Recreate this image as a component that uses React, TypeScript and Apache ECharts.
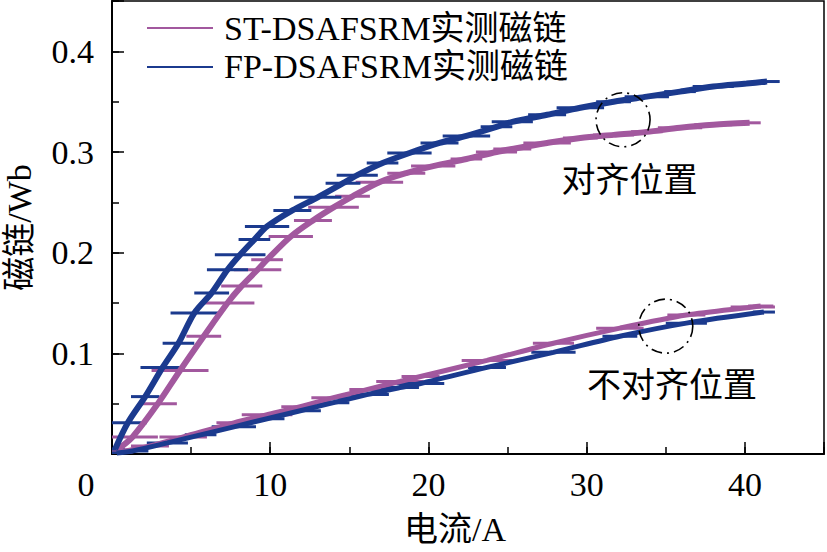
import React, { useEffect, useRef } from "react";
import * as echarts from "echarts";

// ---------- data ----------
const seriesNames = ["ST-DSAFSRM实测磁链", "FP-DSAFSRM实测磁链"];
const xTickLabels = [0, 10, 20, 30, 40];
const yTickLabels = [0.1, 0.2, 0.3, 0.4];

// ST-DSAFSRM, aligned position (current A, flux Wb, horizontal noise half-width A)
const stAlignedI = [0.3, 1.3, 2.9, 4.3, 5.8, 7.3, 8.2, 9.2, 9.8, 11.3, 12.7, 14.0, 15.2, 16.9, 18.6, 20.3, 22.4, 24.3, 25.3, 27.5, 29.6, 31.7, 33.8, 35.9, 38.0, 40.3];
const stAlignedPsi = [0.004, 0.017, 0.05, 0.083, 0.117, 0.15, 0.167, 0.183, 0.193, 0.216, 0.232, 0.245, 0.256, 0.27, 0.279, 0.286, 0.293, 0.3, 0.303, 0.309, 0.314, 0.317, 0.32, 0.324, 0.327, 0.329];
const stAlignedNoise = [0.8, 1.6, 1.2, 1.8, 1.1, 1.7, 1.3, 1.5, 1.0, 1.4, 1.2, 1.6, 1.1, 1.5, 1.2, 1.4, 1.0, 1.3, 1.2, 1.5, 1.1, 1.3, 1.0, 1.4, 1.2, 0.7];

// FP-DSAFSRM, aligned position
const fpAlignedI = [0.2, 1.0, 2.1, 3.2, 4.2, 5.2, 6.3, 7.3, 8.1, 9.0, 9.8, 11.4, 13.0, 14.6, 15.5, 17.1, 18.8, 20.7, 22.4, 24.3, 25.3, 27.5, 29.6, 31.7, 33.8, 35.9, 38.0, 40.1, 41.4];
const fpAlignedPsi = [0.005, 0.031, 0.057, 0.086, 0.11, 0.14, 0.16, 0.183, 0.198, 0.213, 0.226, 0.242, 0.255, 0.269, 0.277, 0.289, 0.299, 0.309, 0.316, 0.325, 0.33, 0.337, 0.344, 0.35, 0.355, 0.36, 0.365, 0.368, 0.37];
const fpAlignedNoise = [0.6, 1.2, 0.9, 1.4, 1.0, 1.5, 1.1, 1.3, 1.6, 1.0, 1.4, 1.2, 1.5, 1.1, 1.3, 1.0, 1.4, 1.2, 1.5, 1.0, 1.3, 1.2, 1.5, 1.1, 1.4, 1.0, 1.3, 1.2, 0.8];

// ST-DSAFSRM, unaligned position
const stUnalignedI = [0.5, 2.4, 4.5, 7.7, 9.8, 11.9, 14.0, 16.1, 18.2, 19.5, 23.7, 27.9, 32.1, 36.3, 40.5, 41.0];
const stUnalignedPsi = [0.002, 0.008, 0.017, 0.031, 0.039, 0.047, 0.056, 0.064, 0.072, 0.077, 0.093, 0.11, 0.125, 0.138, 0.146, 0.147];
const stUnalignedNoise = [0.8, 1.2, 1.5, 1.1, 1.6, 1.2, 1.4, 1.1, 1.5, 1.2, 1.6, 1.3, 1.5, 1.2, 1.4, 0.8];

// FP-DSAFSRM, unaligned position
const fpUnalignedI = [0.3, 1.3, 3.5, 5.6, 7.7, 9.8, 11.9, 14.0, 16.1, 18.2, 19.5, 23.7, 27.9, 32.1, 36.3, 41.2];
const fpUnalignedPsi = [0.001, 0.003, 0.011, 0.019, 0.027, 0.035, 0.043, 0.051, 0.059, 0.066, 0.07, 0.086, 0.101, 0.117, 0.13, 0.141];
const fpUnalignedNoise = [0.6, 1.0, 1.3, 1.0, 1.4, 1.1, 1.3, 1.0, 1.4, 1.2, 1.5, 1.2, 1.4, 1.1, 1.3, 0.7];

// annotations (data coordinates)
const annotationTexts = ["对齐位置", "不对齐位置"];
const annotationTextPos = [[32.7, 0.272], [35.4, 0.0685]];
const circlePos = [[32.3, 0.332], [35.0, 0.127]];

// ---------- styling ----------
const PINK = "#A2589E";
const BLUE = "#1B3A8E";
const FONT = "Times New Roman, Liberation Serif, DejaVu Serif, serif, Noto Sans CJK SC";
const FS = 34;

function lineSeries(name: string, xs: number[], ys: number[], color: string, width: number) {
  return {
    type: "line",
    name,
    data: xs.map((x, k) => [x, ys[k]]),
    showSymbol: false,
    symbol: "none",
    smooth: 0.3,
    itemStyle: { color },
    lineStyle: { color, width },
    z: 3,
  };
}

function noiseSeries(name: string, xs: number[], ys: number[], ns: number[], color: string) {
  return {
    type: "custom",
    name,
    data: xs.map((x, k) => [x, ys[k], ns[k]]),
    encode: { x: 0, y: 1 },
    itemStyle: { color },
    clip: true,
    z: 3,
    renderItem: (_params: any, api: any) => {
      const x = api.value(0);
      const y = api.value(1);
      const s = api.value(2);
      const a = api.coord([x - s, y]);
      const b = api.coord([x + s, y]);
      return {
        type: "line",
        shape: { x1: a[0], y1: a[1], x2: b[0], y2: b[1] },
        style: { stroke: color, lineWidth: 3 },
      };
    },
  };
}

export default function App() {
  const ref = useRef<HTMLDivElement>(null);

  useEffect(() => {
    if (!ref.current) return;
    const chart = echarts.init(ref.current, undefined, { renderer: "svg" });

    const axisLineStyle = { color: "#000", width: 2 };
    const option: any = {
      animation: false,
      backgroundColor: "#fff",
      textStyle: { fontFamily: FONT },
      grid: {
        left: 112,
        right: 3,
        top: 1,
        bottom: 98,
        containLabel: false,
        outerBoundsMode: "none",
        show: true,
        borderColor: "#000",
        borderWidth: 1.5,
        backgroundColor: "transparent",
      },
      legend: {
        data: seriesNames,
        orient: "vertical",
        left: 147,
        top: 11,
        padding: 0,
        itemWidth: 66,
        itemHeight: 2,
        itemGap: 5,
        icon: "rect",
        textStyle: { fontSize: 34, fontFamily: FONT, color: "#000", padding: [0, 0, 0, 6] },
      },
      xAxis: [
        {
          type: "value",
          min: 0,
          max: 45,
          interval: 10,
          name: "电流/A",
          nameLocation: "middle",
          nameGap: 58,
          nameTextStyle: { fontSize: 34, fontFamily: FONT, color: "#000", padding: [0, 26, 0, 0] },
          axisLine: { show: true, lineStyle: axisLineStyle },
          axisTick: { show: true, inside: true, length: 12, lineStyle: { color: "#000", width: 1.5 } },
          splitLine: { show: false },
          axisLabel: {
            fontSize: FS,
            fontFamily: FONT,
            color: "#000",
            margin: 13,
            formatter: (v: number) => {
              if (v === 0) return "{z|0}";
              return xTickLabels.indexOf(v) >= 0 ? String(v) : "";
            },
            rich: { z: { fontSize: FS, fontFamily: FONT, color: "#000", padding: [0, 52, 0, 0] } },
          },
        },
        {
          type: "value",
          min: 0,
          max: 45,
          interval: 5,
          position: "bottom",
          axisLine: { show: false },
          axisTick: { show: true, inside: true, length: 7, lineStyle: { color: "#000", width: 1.5 } },
          axisLabel: { show: false },
          splitLine: { show: false },
        },
      ],
      yAxis: [
        {
          type: "value",
          min: 0,
          max: 0.45,
          interval: 0.1,
          name: "磁链/Wb",
          nameLocation: "middle",
          nameRotate: 90,
          nameGap: 76,
          nameTextStyle: { fontSize: 34, fontFamily: FONT, color: "#000" },
          axisLine: { show: true, lineStyle: axisLineStyle },
          axisTick: { show: true, inside: true, length: 12, lineStyle: { color: "#000", width: 1.5 } },
          splitLine: { show: false },
          axisLabel: {
            fontSize: FS,
            fontFamily: FONT,
            color: "#000",
            margin: 18,
            formatter: (v: number) => {
              const hit = yTickLabels.find((t) => Math.abs(t - v) < 1e-9);
              return hit !== undefined ? hit.toFixed(1) : "";
            },
          },
        },
        {
          type: "value",
          min: 0,
          max: 0.45,
          interval: 0.05,
          position: "left",
          axisLine: { show: false },
          axisTick: { show: true, inside: true, length: 7, lineStyle: { color: "#000", width: 1.5 } },
          axisLabel: { show: false },
          splitLine: { show: false },
        },
      ],
      series: [
        lineSeries(seriesNames[0], stAlignedI, stAlignedPsi, PINK, 6),
        noiseSeries(seriesNames[0], stAlignedI, stAlignedPsi, stAlignedNoise, PINK),
        lineSeries(seriesNames[0], stUnalignedI, stUnalignedPsi, PINK, 5),
        noiseSeries(seriesNames[0], stUnalignedI, stUnalignedPsi, stUnalignedNoise, PINK),
        lineSeries(seriesNames[1], fpAlignedI, fpAlignedPsi, BLUE, 6),
        noiseSeries(seriesNames[1], fpAlignedI, fpAlignedPsi, fpAlignedNoise, BLUE),
        lineSeries(seriesNames[1], fpUnalignedI, fpUnalignedPsi, BLUE, 5),
        noiseSeries(seriesNames[1], fpUnalignedI, fpUnalignedPsi, fpUnalignedNoise, BLUE),
      ],
    };
    chart.setOption(option);

    const graphics: any[] = [];
    circlePos.forEach((p) => {
      const c = chart.convertToPixel({ gridIndex: 0 }, p) as number[];
      graphics.push({
        type: "circle",
        shape: { cx: c[0], cy: c[1], r: 27 },
        style: { fill: "none", stroke: "#000", lineWidth: 1.6, lineDash: [11, 5, 2, 5] },
        z: 10,
      });
    });
    annotationTexts.forEach((t, k) => {
      const c = chart.convertToPixel({ gridIndex: 0 }, annotationTextPos[k]) as number[];
      graphics.push({
        type: "text",
        x: c[0],
        y: c[1],
        style: {
          text: t,
          fontSize: 34,
          fontFamily: FONT,
          fill: "#000",
          align: "center",
          verticalAlign: "middle",
        },
        z: 10,
      });
    });
    chart.setOption({ graphic: graphics });

    return () => chart.dispose();
  }, []);

  return (
    <div
      ref={ref}
      style={{ position: "fixed", left: 0, top: 0, width: 827, height: 552, background: "#fff" }}
    />
  );
}
